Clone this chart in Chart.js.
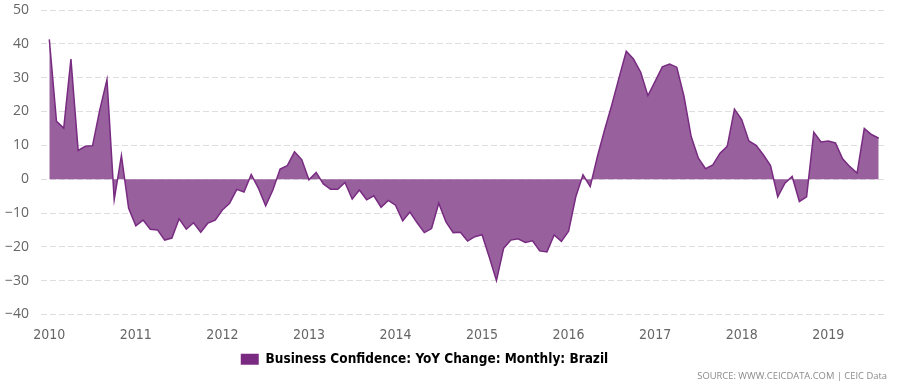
<!DOCTYPE html>
<html>
<head>
<meta charset="utf-8">
<script src="https://cdn.jsdelivr.net/npm/chart.js@4"></script>
<style>
  html, body { margin: 0; padding: 0; background: #fff; }
  #wrap { position: relative; width: 903px; height: 384px; }
  #source {
    position: absolute; right: 16px; top: 369px;
    font: 9.4px "Open Sans", sans-serif; color: #8a8a8a; white-space: nowrap;
  }
</style>
</head>
<body>
<div id="wrap">
  <canvas id="myChart" width="903" height="384"></canvas>
  <div id="source">SOURCE: WWW.CEICDATA.COM | CEIC Data</div>
</div>
<script>
// monthly, Jan 2010 .. Aug 2019
var years = ['2010', '2011', '2012', '2013', '2014', '2015', '2016', '2017', '2018', '2019'];
var yTicks = [-40, -30, -20, -10, 0, 10, 20, 30, 40, 50];
var seriesName = 'Business Confidence: YoY Change: Monthly: Brazil';
var values = [
    41.3, 17.1, 15.1, 35.5, 8.5, 9.7, 9.9, 20.5, 29.4, -6.1, 7.0, -8.6,
    -13.8, -12.1, -14.8, -15.0, -18.0, -17.4, -11.7, -14.8, -12.9, -15.7, -13.0, -12.1,
    -9.1, -7.1, -3.0, -3.8, 1.4, -2.7, -7.9, -3.2, 3.0, 4.0, 8.1, 5.8,
    -0.2, 2.0, -1.4, -3.0, -3.0, -1.0, -5.9, -3.2, -6.1, -4.9, -8.3, -6.3,
    -7.7, -12.3, -9.7, -12.9, -15.8, -14.6, -7.1, -12.6, -15.8, -15.7, -18.3, -17.0,
    -16.4, -23.0, -30.0, -20.4, -18.0, -17.6, -18.7, -18.2, -21.2, -21.5, -16.5, -18.4,
    -15.4, -5.2, 1.3, -2.2, 6.7, 14.6, 22.0, 30.0, 37.8, 35.5, 31.6, 24.7,
    28.9, 33.2, 34.0, 33.1, 24.5, 12.6, 6.2, 3.1, 4.2, 7.7, 9.7, 20.7,
    17.6, 11.3, 10.0, 7.2, 4.0, -5.2, -1.2, 0.8, -6.6, -5.2, 13.9, 11.0,
    11.3, 10.7, 6.0, 3.7, 1.8, 15.0, 13.2, 12.1
];

const ctx = document.getElementById('myChart');

const data = {
    datasets: [
        {
            label: seriesName,
            data: values.map((v, i) => ({ x: i, y: v })),
            fill: 'origin',
            backgroundColor: '#98619e',
            borderColor: '#782b81',
            borderWidth: 1.5,
            pointRadius: 0,
            tension: 0
        }
    ]
};

// legend sits a bit left of the page centre in the original
const shiftLegend = {
    id: 'shiftLegend',
    afterLayout(chart) {
        if (chart.legend) chart.legend.right -= 38;
    }
};

const config = {
    type: 'line',
    data: data,
    plugins: [shiftLegend],
    options: {
        responsive: false,
        animation: false,
        layout: { padding: { left: 0, right: 16, top: 10, bottom: 8 } },
        scales: {
            x: {
                type: 'linear',
                min: -1.15,
                max: values.length - 1 + 1.15,
                grid: { display: false },
                border: { display: false },
                afterBuildTicks: (scale) => {
                    scale.ticks = years.map((y, i) => ({ value: i * 12 }));
                },
                afterFit: (scale) => { scale.height = 28; },
                ticks: {
                    autoSkip: false,
                    maxRotation: 0,
                    padding: 4,
                    color: '#666',
                    font: { family: 'DejaVu Sans Condensed', size: 14 },
                    callback: (value) => years[Math.round(value / 12)]
                }
            },
            y: {
                min: -40,
                max: 50,
                afterBuildTicks: (scale) => {
                    scale.ticks = yTicks.map((v) => ({ value: v }));
                },
                afterFit: (scale) => {
                    scale.width = 41;
                    scale.paddingTop = 0;
                    scale.paddingBottom = 0;
                },
                grid: {
                    color: '#dedede',
                    lineWidth: 1,
                    drawTicks: false
                },
                border: { display: false, dash: [6, 3] },
                ticks: {
                    padding: 12,
                    color: '#666',
                    font: { family: 'Open Sans', size: 14 },
                    callback: (value) => (value < 0 ? '\u2212' + Math.abs(value) : String(value))
                }
            }
        },
        plugins: {
            legend: {
                position: 'bottom',
                labels: {
                    boxWidth: 18,
                    boxHeight: 11,
                    padding: 10,
                    color: '#666',
                    font: { family: 'DejaVu Sans Condensed', size: 13.5, weight: 'bold' },
                    generateLabels: (chart) => [{
                        text: seriesName,
                        fillStyle: '#7b2a82',
                        strokeStyle: '#7b2a82',
                        lineWidth: 0,
                        datasetIndex: 0
                    }]
                }
            },
            tooltip: { enabled: false }
        }
    }
};
var chart = new Chart(ctx, config);
</script>
</body>
</html>
